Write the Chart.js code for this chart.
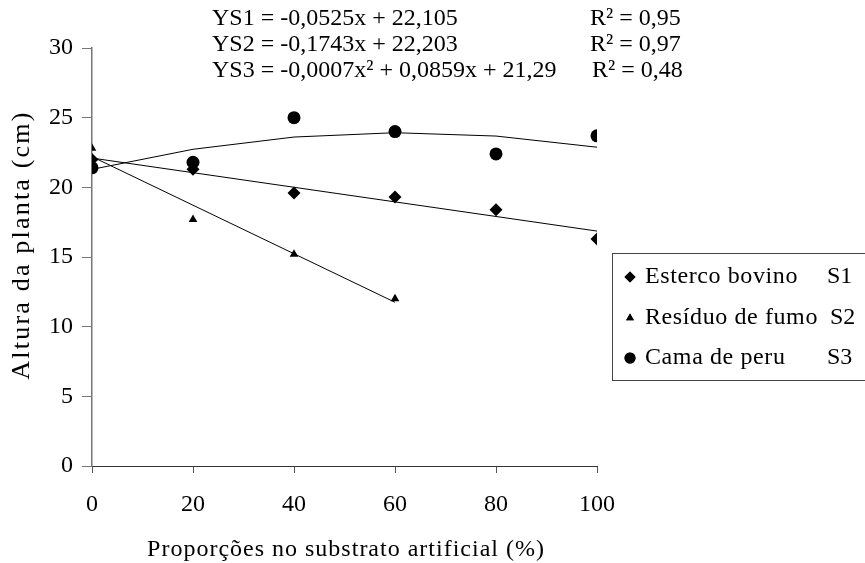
<!DOCTYPE html>
<html>
<head>
<meta charset="utf-8">
<script src="https://cdn.jsdelivr.net/npm/chart.js@4/dist/chart.umd.min.js"></script>
<style>
  html, body { margin: 0; padding: 0; background: #fff; }
  #wrap { width: 865px; height: 563px; }
</style>
</head>
<body>
<div id="wrap"><canvas id="chart" width="865" height="563"></canvas></div>
<script>
// observed values
const proportions = [0, 20, 40, 60, 80, 100];
const esterco = [22.0, 21.3, 19.6, 19.3, 18.4, 16.3];
const residuoX = [0, 20, 40, 60];
const residuo = [22.8, 17.7, 15.2, 12.0];
const cama = [21.4, 21.8, 25.0, 24.0, 22.4, 23.7];

// trend lines as drawn in the picture
const trendS1X = [0, 100];
const trendS1 = [22.1, 16.86];
const trendS2X = [0, 60];
const trendS2 = [22.2, 11.75];
const trendS3 = [21.29, 22.73, 23.61, 23.92, 23.68, 22.88];

// text
const equations = [
    ['YS1 = -0,0525x + 22,105', 'R² = 0,95'],
    ['YS2 = -0,1743x + 22,203', 'R² = 0,97'],
    ['YS3 = -0,0007x² + 0,0859x + 21,29', 'R² = 0,48']
];
const legendLabels = [
    ['Esterco bovino', 'S1', 'rectRot', 5.5],
    ['Resíduo de fumo', 'S2', 'triangle', 4.5],
    ['Cama de peru', 'S3', 'circle', 5.5]
];
const xTitle = 'Proporções no substrato artificial (%)';
const yTitle = 'Altura da planta (cm)';

const serif = "'Liberation Serif', 'Times New Roman', serif";

function pts(xs, ys) {
    return xs.map((x, i) => ({ x: x, y: ys[i] }));
}

// equations, axis titles and legend box drawn on the canvas
const annotations = {
    id: 'annotations',
    afterDraw(chart) {
        const ctx = chart.ctx;
        ctx.save();
        ctx.fillStyle = '#000';
        ctx.font = '24px ' + serif;
        ctx.textBaseline = 'middle';
        ctx.textAlign = 'left';
        const eqY = [19, 45, 71];
        equations.forEach((e, i) => {
            ctx.fillText(e[0], 212, eqY[i]);
            ctx.fillText(e[1], i === 2 ? 592 : 590, eqY[i]);
        });

        // axis titles
        ctx.letterSpacing = '1px';
        ctx.textAlign = 'center';
        ctx.fillText(xTitle, 346, 550);
        ctx.save();
        ctx.font = '26px ' + serif;
        ctx.letterSpacing = '2.2px';
        ctx.translate(22, 245);
        ctx.rotate(-Math.PI / 2);
        ctx.fillText(yTitle, 0, 0);
        ctx.restore();

        // legend (right edge runs off the canvas, as in the original)
        ctx.textAlign = 'left';
        ctx.strokeStyle = '#444';
        ctx.lineWidth = 1;
        ctx.strokeRect(612.5, 253.5, 260, 127);
        const rowY = [277, 318, 358];
        legendLabels.forEach((l, i) => {
            ctx.fillStyle = '#000';
            Chart.helpers.drawPoint(ctx, { pointStyle: l[2], radius: l[3], borderWidth: 0 }, 630, rowY[i]);
            ctx.fill();
            ctx.letterSpacing = '0.6px';
            ctx.fillText(l[0], 645, rowY[i]);
            ctx.letterSpacing = '0px';
            ctx.fillText(l[1], i === 1 ? 830 : 827, rowY[i]);
        });
        ctx.restore();
    }
};

const ctx = document.getElementById('chart').getContext('2d');
new Chart(ctx, {
    type: 'scatter',
    data: {
        datasets: [
            {
                label: 'Esterco bovino S1',
                data: pts(proportions, esterco),
                pointStyle: 'rectRot',
                pointRadius: 6.5,
                backgroundColor: '#000',
                borderColor: '#000',
                borderWidth: 0
            },
            {
                label: 'Resíduo de fumo S2',
                data: pts(residuoX, residuo),
                pointStyle: 'triangle',
                pointRadius: 5,
                backgroundColor: '#000',
                borderColor: '#000',
                borderWidth: 0
            },
            {
                label: 'Cama de peru S3',
                data: pts(proportions, cama),
                pointStyle: 'circle',
                pointRadius: 6.5,
                backgroundColor: '#000',
                borderColor: '#000',
                borderWidth: 0
            },
            {
                label: 'trend S1',
                data: pts(trendS1X, trendS1),
                showLine: true,
                pointRadius: 0,
                borderColor: '#000',
                borderWidth: 1,
                order: 5
            },
            {
                label: 'trend S2',
                data: pts(trendS2X, trendS2),
                showLine: true,
                pointRadius: 0,
                borderColor: '#000',
                borderWidth: 1,
                order: 5
            },
            {
                label: 'trend S3',
                data: pts(proportions, trendS3),
                showLine: true,
                pointRadius: 0,
                borderColor: '#000',
                borderWidth: 1,
                order: 5
            }
        ]
    },
    options: {
        responsive: false,
        animation: false,
        layout: { padding: { top: 48, right: 268, left: 0, bottom: 0 } },
        plugins: {
            legend: { display: false },
            tooltip: { enabled: false }
        },
        scales: {
            x: {
                type: 'linear',
                min: 0,
                max: 100,
                afterFit(scale) { scale.height = 97; },
                ticks: {
                    stepSize: 20,
                    color: '#000',
                    padding: 17,
                    font: { family: serif, size: 24 }
                },
                grid: {
                    drawOnChartArea: false,
                    tickLength: 7,
                    color: '#555'
                },
                border: { color: '#333', width: 1 }
            },
            y: {
                min: 0,
                max: 30,
                afterFit(scale) { scale.width = 92; },
                ticks: {
                    stepSize: 5,
                    color: '#000',
                    padding: 9,
                    font: { family: serif, size: 24 }
                },
                grid: {
                    drawOnChartArea: false,
                    tickLength: 10,
                    color: '#777'
                },
                border: { color: '#777', width: 1.5 }
            }
        }
    },
    plugins: [annotations]
});
</script>
</body>
</html>
